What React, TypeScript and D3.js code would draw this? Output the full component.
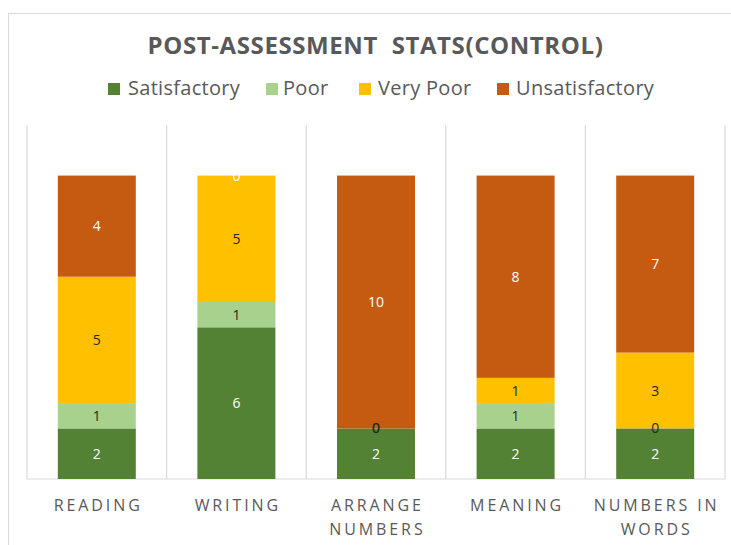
import React from "react";
import * as d3 from "d3";

const categories = ["READING", "WRITING", "ARRANGE NUMBERS", "MEANING", "NUMBERS IN WORDS"];
const categoryLines = [["READING"], ["WRITING"], ["ARRANGE", "NUMBERS"], ["MEANING"], ["NUMBERS IN", "WORDS"]];
const seriesNames = ["Satisfactory", "Poor", "Very Poor", "Unsatisfactory"];
const satisfactory = [2, 6, 2, 2, 2];
const poor = [1, 1, 0, 1, 0];
const veryPoor = [5, 5, 0, 1, 3];
const unsatisfactory = [4, 0, 10, 8, 7];
const colors = ["#548235", "#A9D18E", "#FFC000", "#C55A11"];
const labelColors = ["#ffffff", "#262626", "#262626", "#ffffff"];
const yMax = 14;

export default function App() {
  const W = 731, H = 545;
  const plotL = 27, plotR = 725, plotT = 125, plotB = 479;
  const x = d3.scaleBand().domain(categories).range([plotL, plotR]).paddingInner(0).paddingOuter(0);
  const y = d3.scaleLinear().domain([0, yMax]).range([plotB, plotT]);
  const barW = 78;
  const table = categories.map((c, i) => ({
    cat: c,
    Satisfactory: satisfactory[i],
    Poor: poor[i],
    "Very Poor": veryPoor[i],
    Unsatisfactory: unsatisfactory[i],
  }));
  const stack = d3.stack<any>().keys(seriesNames)(table);
  const font = "'Open Sans', 'Noto Sans', sans-serif";
  const legendItems = [
    { x: 108, tx: 128 },
    { x: 266, tx: 283 },
    { x: 359, tx: 378 },
    { x: 497, tx: 516 },
  ];
  return (
    <svg width={W} height={H} style={{ position: "absolute", left: 0, top: 0 }} fontFamily={font}>
      <rect x={0} y={0} width={W} height={H} fill="#ffffff" />
      <rect x={8.5} y={13.5} width={W} height={H} fill="none" stroke="#d9d9d9" strokeWidth={1} />
      <text x={375.5} y={54} textAnchor="middle" fontSize={24} fontWeight="bold" fill="#595959" letterSpacing={0.6} style={{ whiteSpace: "pre" }}>
        {"POST-ASSESSMENT  STATS(CONTROL)"}
      </text>
      {seriesNames.map((s, i) => (
        <g key={s}>
          <rect x={legendItems[i].x} y={83} width={12} height={12} fill={colors[i]} />
          <text x={legendItems[i].tx} y={95} fontSize={20} fill="#595959" letterSpacing={0.3}>{s}</text>
        </g>
      ))}
      {d3.range(categories.length + 1).map((i) => {
        const gx = plotL + i * x.step();
        return <line key={i} x1={gx} x2={gx} y1={plotT} y2={plotB} stroke="#d9d9d9" strokeWidth={1.2} />;
      })}
      <line x1={plotL} x2={plotR} y1={plotB} y2={plotB} stroke="#d9d9d9" strokeWidth={1.2} />
      {stack.map((layer, si) => (
        <g key={seriesNames[si]}>
          {layer.map((d: any, ci) => {
            const bx = (x(categories[ci]) as number) + x.bandwidth() / 2 - barW / 2;
            return (
              <rect key={ci} x={bx} y={y(d[1])} width={barW} height={y(d[0]) - y(d[1])} fill={colors[si]} />
            );
          })}
        </g>
      ))}
      {stack.map((layer, si) => (
        <g key={"l" + seriesNames[si]}>
          {layer.map((d: any, ci) => {
            const cx = (x(categories[ci]) as number) + x.bandwidth() / 2;
            const cy = (y(d[0]) + y(d[1])) / 2;
            return (
              <text key={ci} x={cx} y={cy + 5} textAnchor="middle" fontSize={14} fill={labelColors[si]}>
                {d[1] - d[0]}
              </text>
            );
          })}
        </g>
      ))}
      {categoryLines.map((lines, ci) => {
        const cx = (x(categories[ci]) as number) + x.bandwidth() / 2;
        return (
          <text key={ci} textAnchor="middle" fontSize={16} fill="#595959" letterSpacing={2.9}>
            {lines.map((l, li) => (
              <tspan key={li} x={cx + 1.45} y={511 + li * 24}>{l}</tspan>
            ))}
          </text>
        );
      })}
    </svg>
  );
}
